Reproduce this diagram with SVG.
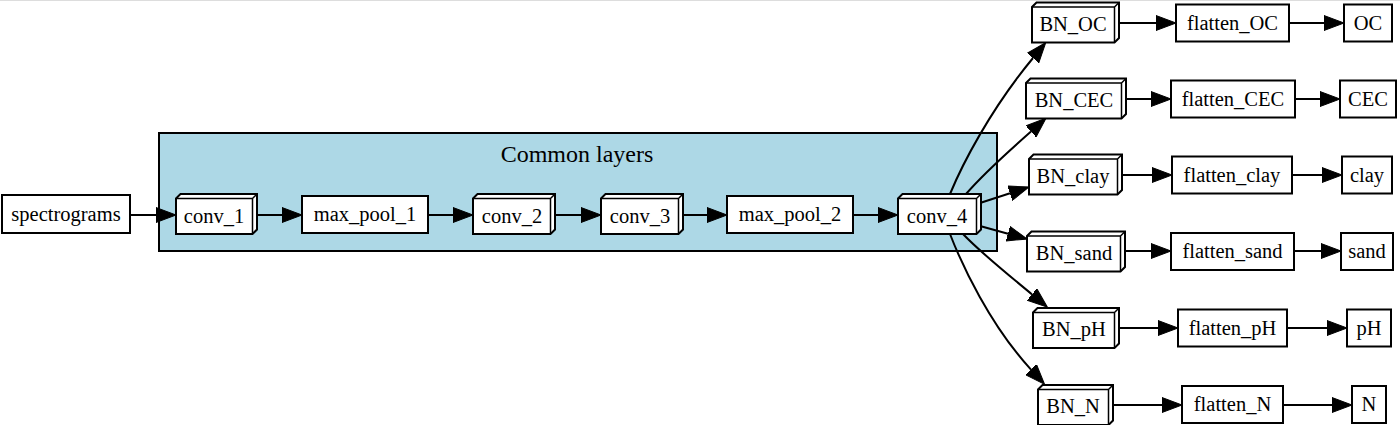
<svg xmlns="http://www.w3.org/2000/svg" width="1400" height="425" viewBox="0 0 1400 425">
<style>
  .b{fill:#fff;stroke:#000;stroke-width:2}
  .d{fill:none;stroke:#000;stroke-width:1.5}
  .t{font-family:"Liberation Serif","Times New Roman",serif;font-size:20.5px;text-anchor:middle;fill:#000}
  .e{fill:none;stroke:#000;stroke-width:2}
  .cl{fill:#add8e6;stroke:#000;stroke-width:2}
</style>
<defs>
  <marker id="ah" markerUnits="userSpaceOnUse" markerWidth="20" markerHeight="16" viewBox="0 0 20 16" refX="0" refY="8" orient="auto">
    <path d="M0,0.5 L20,8 L0,15.5 Z" fill="#000" stroke="#000" stroke-width="1"/>
  </marker>
</defs>
<rect width="1400" height="425" fill="#fff"/>
<line x1="0" y1="0.5" x2="1400" y2="0.5" stroke="#ddd" stroke-width="1"/>

<g id="cluster_common">
  <rect class="cl" x="159" y="133" width="838" height="118"/>
  <text x="577" y="162" style="font-family:'Liberation Serif','Times New Roman',serif;font-size:24px;text-anchor:middle">Common layers</text>
</g>

<g id="edges">
  <path class="e" marker-end="url(#ah)" d="M130,215 L156,215"/>
  <path class="e" marker-end="url(#ah)" d="M257,215 L282,215"/>
  <path class="e" marker-end="url(#ah)" d="M428,215 L453,215"/>
  <path class="e" marker-end="url(#ah)" d="M555,215 L581,215"/>
  <path class="e" marker-end="url(#ah)" d="M683,215 L707,215"/>
  <path class="e" marker-end="url(#ah)" d="M853,215 L878,215"/>

  <path class="e" marker-end="url(#ah)" d="M950,194 C962,165 990,110 1033,58"/>
  <path class="e" marker-end="url(#ah)" d="M966,194 C985,172 1010,150 1031,131.5"/>
  <path class="e" marker-end="url(#ah)" d="M980,203 L1010,193.2"/>
  <path class="e" marker-end="url(#ah)" d="M980,226 L1008,233.7"/>
  <path class="e" marker-end="url(#ah)" d="M963,234 C980,252 1005,272 1032,294.4"/>
  <path class="e" marker-end="url(#ah)" d="M950,234 C962,265 990,325 1031,369.6"/>

  <path class="e" marker-end="url(#ah)" d="M1119,23 L1156,23"/>
  <path class="e" marker-end="url(#ah)" d="M1289,23 L1324,23"/>
  <path class="e" marker-end="url(#ah)" d="M1126,99 L1151,99"/>
  <path class="e" marker-end="url(#ah)" d="M1295,99 L1320,99"/>
  <path class="e" marker-end="url(#ah)" d="M1122,175 L1152,175"/>
  <path class="e" marker-end="url(#ah)" d="M1292,175 L1322,175"/>
  <path class="e" marker-end="url(#ah)" d="M1125,251 L1151,251"/>
  <path class="e" marker-end="url(#ah)" d="M1294,251 L1321,251"/>
  <path class="e" marker-end="url(#ah)" d="M1119,328 L1158,328"/>
  <path class="e" marker-end="url(#ah)" d="M1287,328 L1327,328"/>
  <path class="e" marker-end="url(#ah)" d="M1113,405 L1162,405"/>
  <path class="e" marker-end="url(#ah)" d="M1283,405 L1332,405"/>
</g>

<g id="spectrograms"><rect class="b" x="2" y="195" width="128" height="38"/><text class="t" x="66" y="221">spectrograms</text></g>

<g id="conv_1"><path class="b" d="M176,198.5 L180.5,194 L257,194 L257,229.5 L252.5,234 L176,234 Z"/><path class="d" d="M176,198.5 L252.5,198.5 L252.5,234 M252.5,198.5 L257,194"/><text class="t" x="214" y="223">conv_1</text></g>
<g id="max_pool_1"><rect class="b" x="302" y="196" width="126" height="37"/><text class="t" x="365" y="221">max_pool_1</text></g>
<g id="conv_2"><path class="b" d="M473,198.5 L477.5,194 L555,194 L555,229.5 L550.5,234 L473,234 Z"/><path class="d" d="M473,198.5 L550.5,198.5 L550.5,234 M550.5,198.5 L555,194"/><text class="t" x="512" y="223">conv_2</text></g>
<g id="conv_3"><path class="b" d="M601,198.5 L605.5,194 L683,194 L683,229.5 L678.5,234 L601,234 Z"/><path class="d" d="M601,198.5 L678.5,198.5 L678.5,234 M678.5,198.5 L683,194"/><text class="t" x="640" y="223">conv_3</text></g>
<g id="max_pool_2"><rect class="b" x="727" y="196" width="126" height="37"/><text class="t" x="790" y="221">max_pool_2</text></g>
<g id="conv_4"><path class="b" d="M898,198.5 L902.5,194 L981,194 L981,229.5 L976.5,234 L898,234 Z"/><path class="d" d="M898,198.5 L976.5,198.5 L976.5,234 M976.5,198.5 L981,194"/><text class="t" x="937" y="223">conv_4</text></g>

<g id="BN_OC"><path class="b" d="M1032,7 L1036.5,2.5 L1119,2.5 L1119,38 L1114.5,42.5 L1032,42.5 Z"/><path class="d" d="M1032,7 L1114.5,7 L1114.5,42.5 M1114.5,7 L1119,2.5"/><text class="t" x="1073" y="30.5">BN_OC</text></g>
<g id="flatten_OC"><rect class="b" x="1176" y="4.5" width="113" height="37"/><text class="t" x="1232.5" y="29.5">flatten_OC</text></g>
<g id="OC"><rect class="b" x="1344" y="4.5" width="48" height="37"/><text class="t" x="1368" y="29.5">OC</text></g>

<g id="BN_CEC"><path class="b" d="M1026,83 L1030.5,78.5 L1126,78.5 L1126,114 L1121.5,118.5 L1026,118.5 Z"/><path class="d" d="M1026,83 L1121.5,83 L1121.5,118.5 M1121.5,83 L1126,78.5"/><text class="t" x="1074" y="106.5">BN_CEC</text></g>
<g id="flatten_CEC"><rect class="b" x="1171" y="80.5" width="124" height="37"/><text class="t" x="1233" y="105.5">flatten_CEC</text></g>
<g id="CEC"><rect class="b" x="1340" y="80.5" width="56" height="37"/><text class="t" x="1368" y="105.5">CEC</text></g>

<g id="BN_clay"><path class="b" d="M1029,159 L1033.5,154.5 L1122,154.5 L1122,190 L1117.5,194.5 L1029,194.5 Z"/><path class="d" d="M1029,159 L1117.5,159 L1117.5,194.5 M1117.5,159 L1122,154.5"/><text class="t" x="1073" y="182.5">BN_clay</text></g>
<g id="flatten_clay"><rect class="b" x="1172" y="156.5" width="120" height="37"/><text class="t" x="1232" y="181.5">flatten_clay</text></g>
<g id="clay"><rect class="b" x="1342" y="156.5" width="50" height="37"/><text class="t" x="1367" y="181.5">clay</text></g>

<g id="BN_sand"><path class="b" d="M1027,236 L1031.5,231.5 L1125,231.5 L1125,267 L1120.5,271.5 L1027,271.5 Z"/><path class="d" d="M1027,236 L1120.5,236 L1120.5,271.5 M1120.5,236 L1125,231.5"/><text class="t" x="1074" y="259.5">BN_sand</text></g>
<g id="flatten_sand"><rect class="b" x="1171" y="233" width="123" height="37"/><text class="t" x="1232.5" y="258">flatten_sand</text></g>
<g id="sand"><rect class="b" x="1341" y="233" width="52" height="37"/><text class="t" x="1367" y="258">sand</text></g>

<g id="BN_pH"><path class="b" d="M1033,312.5 L1037.5,308 L1119,308 L1119,343.5 L1114.5,348 L1033,348 Z"/><path class="d" d="M1033,312.5 L1114.5,312.5 L1114.5,348 M1114.5,312.5 L1119,308"/><text class="t" x="1074" y="336">BN_pH</text></g>
<g id="flatten_pH"><rect class="b" x="1178" y="309.5" width="109" height="37"/><text class="t" x="1232.5" y="334.5">flatten_pH</text></g>
<g id="pH"><rect class="b" x="1347" y="309.5" width="44" height="37"/><text class="t" x="1369" y="334.5">pH</text></g>

<g id="BN_N"><path class="b" d="M1038,389.5 L1042.5,385 L1113,385 L1113,420.5 L1108.5,425 L1038,425 Z"/><path class="d" d="M1038,389.5 L1108.5,389.5 L1108.5,425 M1108.5,389.5 L1113,385"/><text class="t" x="1073" y="413">BN_N</text></g>
<g id="flatten_N"><rect class="b" x="1182" y="386" width="101" height="37"/><text class="t" x="1232.5" y="411">flatten_N</text></g>
<g id="N"><rect class="b" x="1352" y="386" width="34" height="37"/><text class="t" x="1369" y="411">N</text></g>
</svg>
